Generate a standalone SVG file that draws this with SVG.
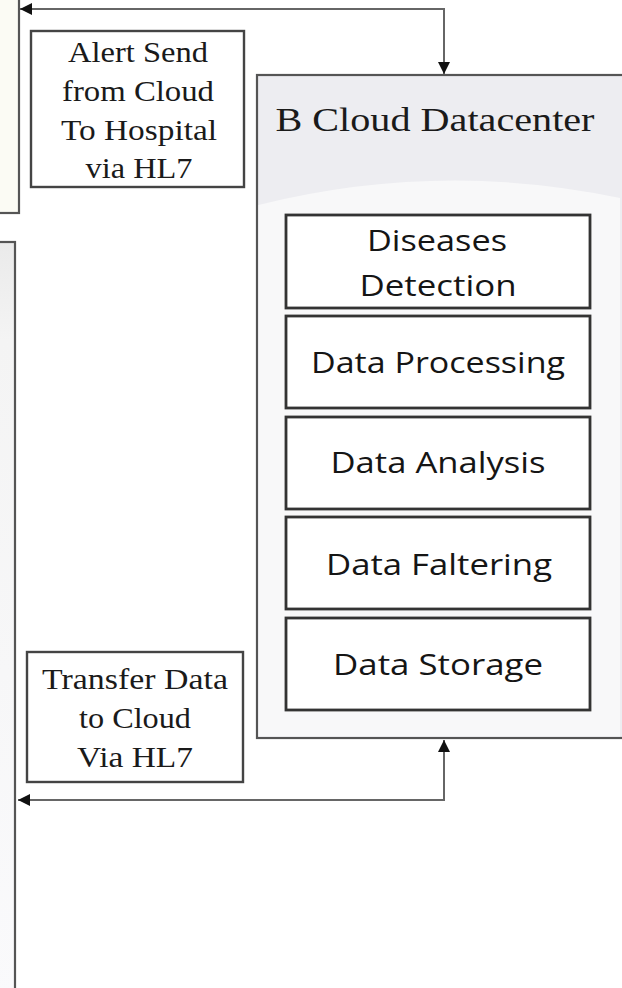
<svg xmlns="http://www.w3.org/2000/svg" width="622" height="988" viewBox="0 0 622 988">
  <defs>
    <marker id="arrow" viewBox="0 0 10 10" refX="10" refY="5" markerUnits="userSpaceOnUse" markerWidth="14" markerHeight="12" orient="auto-start-reverse">
      <path d="M0,0 L10,5 L0,10 z" fill="#111"/>
    </marker>
    <linearGradient id="panelFade" x1="0" y1="0" x2="0" y2="1">
      <stop offset="0" stop-color="#eaeaea"/>
      <stop offset="0.13" stop-color="#f4f4f4"/>
      <stop offset="1" stop-color="#fafafc"/>
    </linearGradient>
    <style>
      .panel { stroke: #555; stroke-width: 2.2; }
      .label { fill: #fff; stroke: #444; stroke-width: 2.4; }
      .step { fill: #fff; stroke: #333; stroke-width: 2.8; }
      .serif { font-family: "Liberation Serif", "Times New Roman", serif; fill: #1a1a1a; text-anchor: middle; }
      .sans { font-family: "Open Sans", "Liberation Sans", Arial, sans-serif; fill: #151515; text-anchor: middle; font-size: 30px; }
      .wire { fill: none; stroke: #666; stroke-width: 2; }
    </style>
  </defs>

  <rect width="622" height="988" fill="#fff"/>

  <!-- upper-left panel, clipped by the canvas edge -->
  <g id="panel-top-left">
    <rect x="-10" y="-10" width="29" height="223" fill="#fbfbf4" class="panel"/>
  </g>

  <!-- lower-left panel, continues past the bottom edge -->
  <g id="panel-bottom-left">
    <rect x="-10" y="242" width="25" height="760" fill="url(#panelFade)" class="panel"/>
  </g>

  <!-- connectors -->
  <g id="connectors">
    <path class="wire" d="M20,9 H444 V74" marker-start="url(#arrow)" marker-end="url(#arrow)"/>
    <path class="wire" d="M18,800 H444 V740" marker-start="url(#arrow)" marker-end="url(#arrow)"/>
  </g>

  <g id="alert-label">
    <rect x="31" y="31" width="213" height="156" class="label"/>
    <text class="serif" font-size="29" x="138" y="62" textLength="140" lengthAdjust="spacingAndGlyphs">Alert Send</text>
    <text class="serif" font-size="29" x="138" y="101" textLength="152" lengthAdjust="spacingAndGlyphs">from Cloud</text>
    <text class="serif" font-size="29" x="139" y="140" textLength="156" lengthAdjust="spacingAndGlyphs">To Hospital</text>
    <text class="serif" font-size="29" x="139" y="178" textLength="107" lengthAdjust="spacingAndGlyphs">via HL7</text>
  </g>

  <g id="transfer-label">
    <rect x="27" y="652" width="216" height="130" class="label"/>
    <text class="serif" font-size="29" x="135" y="689" textLength="186" lengthAdjust="spacingAndGlyphs">Transfer Data</text>
    <text class="serif" font-size="29" x="135" y="728" textLength="112" lengthAdjust="spacingAndGlyphs">to Cloud</text>
    <text class="serif" font-size="29" x="135" y="767" textLength="116" lengthAdjust="spacingAndGlyphs">Via HL7</text>
  </g>

  <g id="cloud-datacenter">
    <rect x="257" y="75" width="370" height="663" fill="#ededf1" class="panel"/>
    <!-- lighter body under the curved header band -->
    <path d="M258.5,205 Q440,160 620,198 V736.5 H258.5 Z" fill="#f8f8f9"/>
    <text class="serif" font-size="34" x="435" y="131" textLength="319" lengthAdjust="spacingAndGlyphs">B Cloud Datacenter</text>

    <g id="diseases-detection">
      <rect x="286" y="215" width="304" height="93" class="step"/>
      <text class="sans" x="437" y="251" textLength="140" lengthAdjust="spacingAndGlyphs">Diseases</text>
      <text class="sans" x="438" y="296" textLength="157" lengthAdjust="spacingAndGlyphs">Detection</text>
    </g>
    <g id="data-processing">
      <rect x="286" y="316" width="304" height="92" class="step"/>
      <text class="sans" x="438" y="373" textLength="254" lengthAdjust="spacingAndGlyphs">Data Processing</text>
    </g>
    <g id="data-analysis">
      <rect x="286" y="417" width="304" height="92" class="step"/>
      <text class="sans" x="438" y="473" textLength="215" lengthAdjust="spacingAndGlyphs">Data Analysis</text>
    </g>
    <g id="data-faltering">
      <rect x="286" y="517" width="304" height="92" class="step"/>
      <text class="sans" x="439" y="575" textLength="226" lengthAdjust="spacingAndGlyphs">Data Faltering</text>
    </g>
    <g id="data-storage">
      <rect x="286" y="618" width="304" height="92" class="step"/>
      <text class="sans" x="438" y="675" textLength="210" lengthAdjust="spacingAndGlyphs">Data Storage</text>
    </g>
  </g>
</svg>
